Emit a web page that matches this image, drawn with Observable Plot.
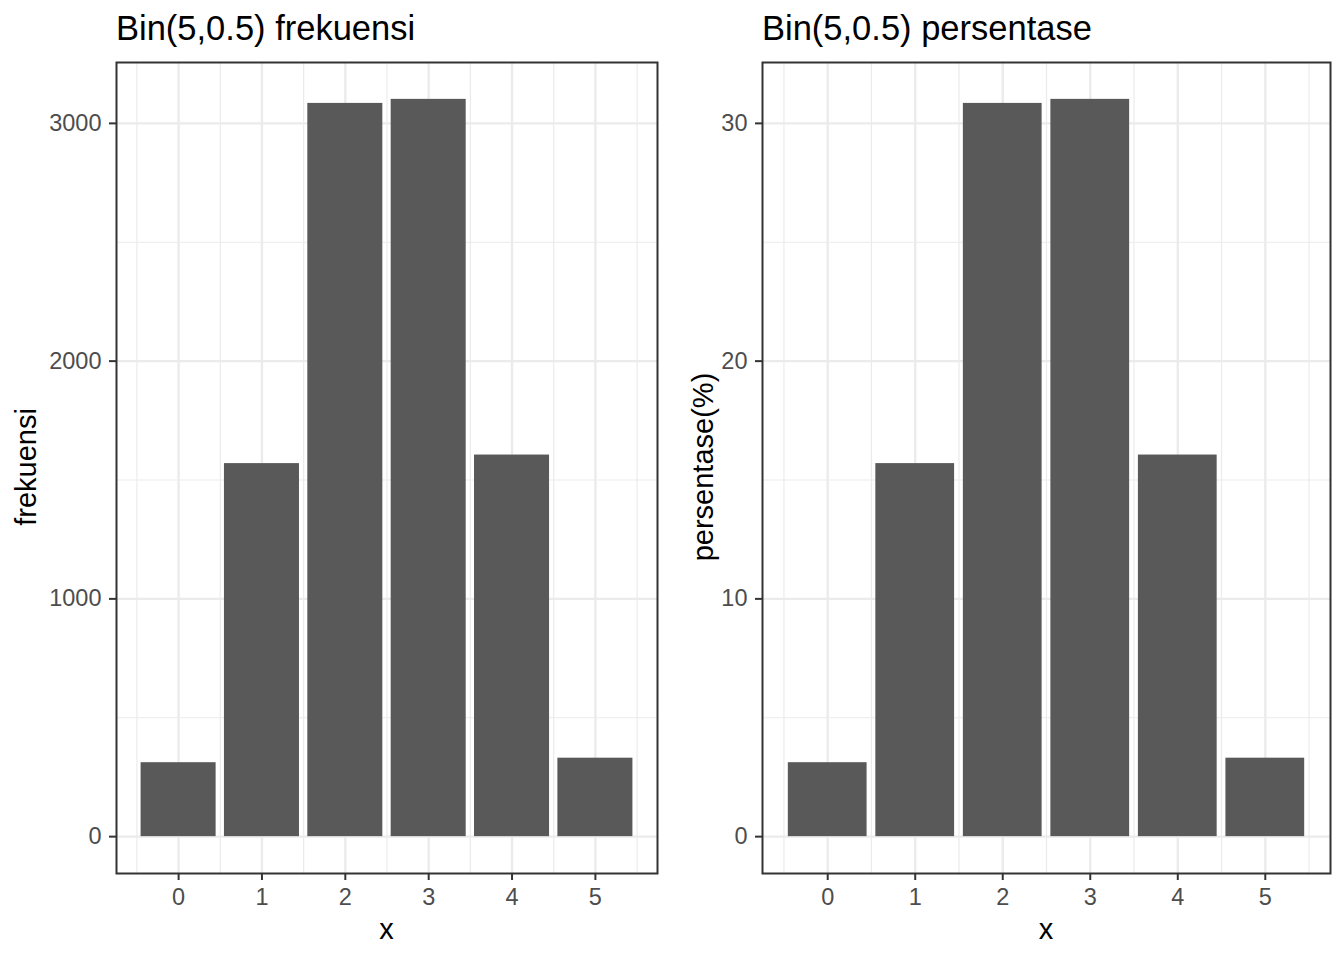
<!DOCTYPE html>
<html>
<head>
<meta charset="utf-8">
<script src="https://cdn.jsdelivr.net/npm/d3@7"></script>
<script src="https://cdn.jsdelivr.net/npm/@observablehq/plot@0.6"></script>
<style>
  html, body { margin: 0; padding: 0; background: #fff; }
  #root { position: relative; width: 1344px; height: 960px; font-family: "Liberation Sans", Arial, sans-serif; overflow: hidden; }
  .chart { position: absolute; top: 0; }
  .title { position: absolute; font-size: 34.5px; line-height: 34.5px; color: #000; white-space: nowrap; }
  .xlab { position: absolute; font-size: 29px; line-height: 29px; color: #000; text-align: center; }
  .ylab { position: absolute; font-size: 29px; line-height: 29px; color: #000; white-space: nowrap; transform: translate(-50%, -50%) rotate(-90deg); }
</style>
</head>
<body>
<div id="root"></div>
<script>
// ---- data ----
const xs = [0, 1, 2, 3, 4, 5];
const frekuensi = [311, 1569, 3084, 3101, 1605, 330];
const persentase = [3.11, 15.69, 30.84, 31.01, 16.05, 3.30];
const xTicks = [0, 1, 2, 3, 4, 5];
const xMinor = [-0.5, 0.5, 1.5, 2.5, 3.5, 4.5, 5.5];
const yTicksFreq = [0, 1000, 2000, 3000];
const yMinorFreq = [500, 1500, 2500];
const yTicksPct = [0, 10, 20, 30];
const yMinorPct = [5, 15, 25];
const titles = ["Bin(5,0.5) frekuensi", "Bin(5,0.5) persentase"];
const yLabels = ["frekuensi", "persentase(%)"];

const barWidth = 0.9;
const root = document.getElementById("root");

function panel({values, yTicks, yMinor, left, width, marginLeft, marginRight}) {
  const data = xs.map((x, i) => ({x, y: values[i]}));
  const xMin = d3.min(xs) - barWidth / 2, xMax = d3.max(xs) + barWidth / 2;
  const xPad = 0.05 * (xMax - xMin);
  const yMax = d3.max(values);
  const grid = "#EBEBEB";
  const chart = Plot.plot({
    width, height: 960,
    marginLeft, marginRight, marginTop: 62, marginBottom: 87,
    style: {fontSize: "23.5px", fontFamily: '"Liberation Sans", Arial, sans-serif', background: "#fff"},
    x: {type: "linear", domain: [xMin - xPad, xMax + xPad]},
    y: {domain: [-0.05 * yMax, 1.05 * yMax]},
    marks: [
      Plot.ruleY(yMinor, {stroke: grid, strokeWidth: 1.2}),
      Plot.ruleX(xMinor, {stroke: grid, strokeWidth: 1.2}),
      Plot.ruleY(yTicks, {stroke: grid, strokeWidth: 2.4}),
      Plot.ruleX(xTicks, {stroke: grid, strokeWidth: 2.4}),
      Plot.rectY(data, {x1: d => d.x - barWidth / 2, x2: d => d.x + barWidth / 2, y1: 0, y2: "y", fill: "#595959"}),
      Plot.frame({stroke: "#333333", strokeWidth: 2}),
      Plot.axisY(yTicks, {tickSize: 7, tickPadding: 8, stroke: "#333333", strokeWidth: 2, fill: "#4D4D4D", label: null, tickFormat: d => String(d)}),
      Plot.axisX(xTicks, {tickSize: 7, tickPadding: 8, stroke: "#333333", strokeWidth: 2, fill: "#4D4D4D", label: null, tickFormat: d => String(d)})
    ]
  });
  const div = document.createElement("div");
  div.className = "chart";
  div.style.left = left + "px";
  div.appendChild(chart);
  root.appendChild(div);
}

panel({values: frekuensi, yTicks: yTicksFreq, yMinor: yMinorFreq, left: 0, width: 672, marginLeft: 116, marginRight: 15});
panel({values: persentase, yTicks: yTicksPct, yMinor: yMinorPct, left: 672, width: 672, marginLeft: 90, marginRight: 14});

function addText(cls, text, styles) {
  const d = document.createElement("div");
  d.className = cls;
  d.textContent = text;
  Object.assign(d.style, styles);
  root.appendChild(d);
}
addText("title", titles[0], {left: "116px", top: "11px"});
addText("title", titles[1], {left: "762px", top: "11px"});
addText("xlab", "x", {left: "116px", width: "541px", top: "915px"});
addText("xlab", "x", {left: "762px", width: "568px", top: "915px"});
addText("ylab", yLabels[0], {left: "26px", top: "467px"});
addText("ylab", yLabels[1], {left: "703px", top: "467px"});
</script>
</body>
</html>
